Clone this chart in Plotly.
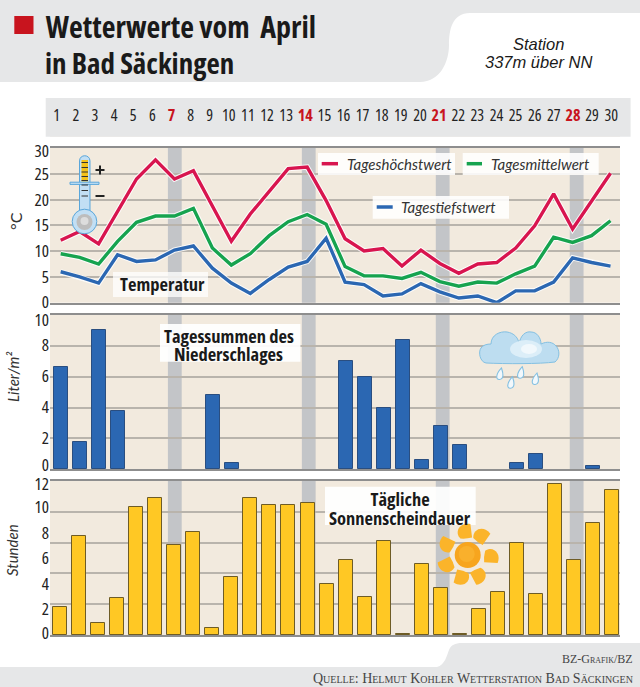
import math
import plotly.graph_objects as go

days = list(range(1, 31))
red_days = [7, 14, 21, 28]
t_high = [12.1, 13.8, 11.4, 17.7, 24.0, 27.7, 24.0, 25.6, 18.9, 11.9, 17.2, 21.7, 26.0, 26.3, 19.8,
          12.4, 10.05, 10.5, 7.1, 10.2, 7.6, 5.7, 7.5, 7.8, 10.6, 14.9, 21.1, 14.3, 19.6, 25.1]
t_mean = [9.5, 8.8, 7.5, 11.9, 15.6, 16.8, 16.8, 18.3, 10.6, 7.3, 9.5, 13.0, 15.7, 17.1, 15.2,
          7.0, 5.2, 5.2, 4.7, 5.9, 4.1, 3.2, 4.0, 3.8, 5.6, 7.1, 12.7, 11.7, 13.0, 15.9]
t_low = [6.0, 5.0, 3.8, 9.3, 8.0, 8.3, 10.2, 11.0, 6.7, 3.8, 1.8, 4.5, 6.9, 8.0, 12.5,
         4.0, 3.5, 1.3, 1.7, 3.7, 2.1, 0.9, 1.3, 0.0, 2.3, 2.3, 4.0, 8.7, 7.8, 7.1]
rain = [6.6, 1.8, 9.0, 3.8, 0, 0, 0, 0, 4.8, 0.4, 0, 0, 0, 0, 0,
        7.0, 6.0, 4.0, 8.4, 0.6, 2.8, 1.6, 0, 0, 0.4, 1.0, 0, 0, 0.2, 0]
sun = [2.2, 7.7, 0.9, 2.9, 10.0, 10.65, 7.0, 8.0, 0.55, 4.5, 10.65, 10.15, 10.15, 10.3, 4.0,
       5.85, 3.0, 7.3, 0.05, 5.5, 3.7, 0.05, 2.05, 3.35, 7.2, 3.2, 11.8, 5.85, 8.7, 11.3]
temp_labels = ["0", "5", "10", "15", "20", "25", "30"]
rain_labels = ["0", "2", "4", "6", "8", "10"]
sun_labels = ["0", "2", "4", "6", "8", "10", "12"]
temp_grid = [5, 10, 15, 20, 25]
rain_grid = [2, 4, 6, 8]
sun_grid = [2.4, 4.8, 7.2, 9.6]

W, H = 640, 687
NARROW = "Open Sans"
GRID = "#B9B4AC"
EDGE = "#8E8E8E"
PANEL = "#F2EADE"
HEAD = "#E6E7E8"
RED = "#C8141E"
C_HIGH, C_MEAN, C_LOW = "#D8154F", "#16A34F", "#2B67B2"


def X(p):
    return p / W


def Y(p):
    return 1 - p / H


def path(cmds):
    out = []
    for c in cmds:
        if isinstance(c, str):
            out.append(c)
        else:
            out.append(f"{X(c[0]):.5f},{Y(c[1]):.5f}")
    return " ".join(out)


shapes = []


def add_path(cmds, fill, line=None, lw=0, layer="above"):
    shapes.append(dict(type="path", xref="paper", yref="paper", path=path(cmds), fillcolor=fill,
                       line=dict(color=line or "rgba(0,0,0,0)", width=lw), layer=layer))


def add_rect(x0, y0, x1, y1, fill, layer="above", line=None, lw=0):
    shapes.append(dict(type="rect", xref="paper", yref="paper", x0=X(x0), x1=X(x1), y0=Y(y0), y1=Y(y1),
                       fillcolor=fill, line=dict(color=line or "rgba(0,0,0,0)", width=lw), layer=layer))


def add_oval(cx, cy, rx, ry, fill, line=None, lw=0):
    shapes.append(dict(type="circle", xref="paper", yref="paper", x0=X(cx - rx), x1=X(cx + rx),
                       y0=Y(cy - ry), y1=Y(cy + ry), fillcolor=fill,
                       line=dict(color=line or "rgba(0,0,0,0)", width=lw), layer="above"))


def add_line(x0, y0, x1, y1, color, lw):
    shapes.append(dict(type="line", xref="paper", yref="paper", x0=X(x0), x1=X(x1), y0=Y(y0), y1=Y(y1),
                       line=dict(color=color, width=lw), layer="above"))


# header and footer backgrounds
add_path(["M", (0, 0), "L", (640, 0), "L", (640, 13), "L", (470, 13), "C", (452, 13), (449, 30), (449, 45),
          "C", (449, 62), (440, 82), (420, 82), "L", (0, 82), "Z"], HEAD, layer="below")
add_rect(45.7, 98, 630.6, 136.7, HEAD, layer="below")
add_path(["M", (0, 667), "L", (437, 667), "C", (445, 665), (447, 655), (449, 650), "C", (451, 645), (455, 643), (462, 643),
          "L", (640, 643), "L", (640, 687), "L", (0, 687), "Z"], HEAD, layer="below")
add_rect(14.3, 16, 33.5, 34, RED, layer="below")

# grey bands of the weeks
panels = [(148, 302.7), (315, 469.3), (481, 635)]
for i, d in enumerate(red_days):
    cx = 174.8 + 133.95 * i
    for top, bot in panels:
        add_rect(cx - 6.9, top, cx + 6.9, bot, "#C3C5C8", layer="below")

# legend boxes
add_rect(318, 153, 455, 175, "rgba(255,255,255,0.88)")
add_rect(462.7, 153, 598.7, 175, "rgba(255,255,255,0.88)")
add_rect(372.7, 196, 509, 218.7, "rgba(255,255,255,0.88)")
add_line(321.7, 163.7, 338, 163.7, C_HIGH, 3.5)
add_line(466.7, 163.7, 482, 163.7, C_MEAN, 3.5)
add_line(376.7, 207, 392.7, 207, C_LOW, 3.5)
add_rect(113, 272, 208, 297, "rgba(255,255,255,0.75)")
add_rect(160, 324, 300.4, 361.7, "rgba(255,255,255,0.92)")
add_rect(325, 486.7, 475.7, 525, "rgba(255,255,255,0.92)")

# thermometer
TB = "#C2DFF4"
TL = "#5AA6DA"
add_path(["M", (79.5, 212), "L", (79.5, 161), "C", (79.5, 154), (90, 154), (90, 161), "L", (90, 212), "Z"], TB, TL, 1)
add_oval(84.5, 221.5, 12.3, 12.3, TB, TL, 1)
add_rect(81.5, 160, 88, 181.5, "#F4C21B")
add_path(["M", (70, 182.2), "L", (99, 182.2), "L", (99, 184.4), "L", (70, 184.4), "Z"], TB, TL, 1)
for ty in [162.5, 167.5, 172, 176.5, 180.5, 185, 190.5, 196]:
    add_line(81.5, ty, 88, ty, "#333333", 1)
add_oval(84.5, 222, 8, 8, "#BDBDBD")
add_oval(84.5, 221, 4, 4, "#DDDDDD")
add_line(95.5, 170, 104.5, 170, "#222222", 2)
add_line(100, 165.5, 100, 174.5, "#222222", 2)
add_line(95.5, 196, 104.5, 196, "#222222", 2)

# cloud and rain
CL = "#83C0E2"
add_path(["M", (486, 363), "C", (480, 362), (478, 352), (481, 348), "C", (483, 345), (487, 344), (491, 344),
          "C", (491, 335), (500, 331), (507, 332), "C", (514, 333), (519, 338), (519, 345),
          "C", (520, 335), (526, 331), (531, 332), "C", (537, 332), (541, 338), (541, 344),
          "C", (547, 341), (553, 342), (556, 346), "C", (560, 350), (560, 358), (555, 362),
          "C", (540, 364), (505, 364), (486, 363), "Z"], "#BDDDF0", CL, 1)
add_oval(526, 349, 16, 9, "#DCEEF8")
add_oval(529, 349, 8, 5, "#F1F8FC")
for dx, dy in [(500, 374), (520.8, 372.7), (511, 382.7), (535.5, 379)]:
    add_path(["M", (dx + 1.5, dy - 6), "C", (dx - 5, dy + 1), (dx - 4, dy + 6), (dx - 0.5, dy + 5.5),
              "C", (dx + 4, dy + 5), (dx + 3.5, dy), (dx + 1.5, dy - 6), "Z"], "#F2F8FC", CL, 1.1)

# sun
SX, SY = 467.7, 555


def pt(r, deg):
    return (SX + r * math.cos(math.radians(deg)), SY + r * math.sin(math.radians(deg)))


for a in [-95, -53, 5, 64, 107, 156, 208]:
    add_path(["M", pt(18, a - 19), "C", pt(27, a - 26), pt(34, a - 8), pt(31, a + 10), "L", pt(18, a + 19),
              "Q", pt(16, a), pt(18, a - 19), "Z"], "#FBB42A")
add_oval(SX, SY, 13, 13, "#F7A51E")
add_oval(SX - 1, SY - 1, 8, 8, "#F9B02C")

fig = go.Figure()

# day strip
strip_colors = [RED if d in red_days else "#222222" for d in days]
strip_text = [f"<b>{d}</b>" if d in red_days else str(d) for d in days]
fig.add_trace(go.Scatter(x=days, y=[0] * 30, mode="text", text=strip_text,
                         textfont=dict(family=NARROW, size=16, color=strip_colors),
                         xaxis="x4", yaxis="y4", showlegend=False, hoverinfo="skip", cliponaxis=False))

# temperatures
for vals, col in [(t_high, C_HIGH), (t_mean, C_MEAN), (t_low, C_LOW)]:
    fig.add_trace(go.Scatter(x=days, y=vals, mode="lines", line=dict(color="rgba(255,255,255,0.85)", width=5.5),
                             xaxis="x", yaxis="y", showlegend=False, hoverinfo="skip", cliponaxis=False))
    fig.add_trace(go.Scatter(x=days, y=vals, mode="lines", line=dict(color=col, width=3.4),
                             xaxis="x", yaxis="y", showlegend=False, cliponaxis=False))

fig.add_trace(go.Bar(x=days, y=rain, width=0.75,
                     marker=dict(color="#2B67B2", line=dict(color="#2A4E80", width=[1 if v > 0 else 0 for v in rain])),
                     xaxis="x2", yaxis="y2", showlegend=False))
fig.add_trace(go.Bar(x=days, y=sun, width=0.735, marker=dict(color="#FFC824", line=dict(color="#6E5C26", width=1)),
                     xaxis="x3", yaxis="y3", showlegend=False))


def xax(anchor, rng):
    return dict(domain=[X(50), X(620)], range=rng, anchor=anchor, showgrid=False, showticklabels=False, ticks="",
                zeroline=False, showline=True, mirror=True, linecolor=EDGE, linewidth=2, fixedrange=True,
                automargin=False)


def yax(anchor, top, bot, rng, label_at, labels, grid):
    # the printed labels sit slightly squeezed inside each panel, independent of the gridlines
    return dict(domain=[Y(bot), Y(top)], range=rng, anchor=anchor, tickvals=label_at, ticktext=labels,
                tickfont=dict(family=NARROW, size=17, color="#222222"), ticks="", showgrid=False,
                zeroline=False, showline=False, fixedrange=True, automargin=False,
                minor=dict(tickvals=grid, showgrid=True, gridcolor=GRID, gridwidth=1.6, ticks=""))


def ann(x, y, text, size=14, family=NARROW, color="#1A1A1A", anchor="center", angle=0, variant=None, italic=False):
    f = dict(family=family, size=size, color=color)
    if variant:
        f["variant"] = variant
    if italic:
        f["style"] = "italic"
    return dict(xref="paper", yref="paper", x=X(x), y=Y(y), text=text, showarrow=False, font=f,
                xanchor=anchor, yanchor="middle", textangle=angle, borderpad=0)


annotations = [
    ann(180.5, 27, "<b>Wetterwerte vom  April</b>", size=30),
    ann(139.6, 63, "<b>in Bad Säckingen</b>", size=29),
    ann(538, 44, "Station", size=16.5, family="Liberation Sans", italic=True),
    ann(538, 61.5, "337m über NN", size=16.5, family="Liberation Sans", italic=True),
    ann(346, 164, "Tageshöchstwert", size=15, family="Lato", anchor="left", italic=True, color="#333333"),
    ann(490, 164, "Tagesmittelwert", size=15, family="Lato", anchor="left", italic=True, color="#333333"),
    ann(400, 207, "Tagestiefstwert", size=15, family="Lato", anchor="left", italic=True, color="#333333"),
    ann(162, 284, "<b>Temperatur</b>", size=18.5),
    ann(228.6, 335, "<b>Tagessummen des</b>", size=18.5),
    ann(228.6, 353, "<b>Niederschlages</b>", size=18.5),
    ann(400, 498, "<b>Tägliche</b>", size=18.5),
    ann(400, 517, "<b>Sonnenscheindauer</b>", size=18.5),
    ann(15, 221, "°C", size=16, family="Lato", angle=-90, color="#333333"),
    ann(13, 377, "Liter/m²", size=15, family="Lato", angle=-90, italic=True, color="#333333"),
    ann(12, 550, "Stunden", size=15, family="Lato", angle=-90, italic=True, color="#333333"),
    ann(634, 659, "BZ-Grafik/BZ", size=12, family="Liberation Serif", anchor="right", variant="small-caps", color="#444444"),
    ann(634, 678, "Quelle: Helmut Kohler Wetterstation Bad Säckingen", size=14, family="Liberation Serif",
        anchor="right", variant="small-caps", color="#444444"),
]

fig.update_layout(
    width=W, height=H, margin=dict(l=0, r=0, t=0, b=0), autosize=False,
    paper_bgcolor="white", plot_bgcolor=PANEL, showlegend=False, bargap=0,
    xaxis=xax("y", [0.436, 30.5]),
    yaxis=yax("x", 148, 302.7, [0, 30], [0.1, 5, 10, 15, 20, 25, 29.5], temp_labels, temp_grid),
    xaxis2=xax("y2", [0.41, 30.41]),
    yaxis2=yax("x2", 315, 469.3, [0, 10], [0.28, 2.03, 4.04, 6.05, 8.06, 9.68], rain_labels, rain_grid),
    xaxis3=xax("y3", [0.486, 30.4]),
    yaxis3=yax("x3", 481, 635, [0, 12], [0.15, 2.03, 3.97, 6.0, 7.95, 9.98, 11.77], sun_labels, sun_grid),
    xaxis4=dict(domain=[X(50), X(620)], range=[0.65, 30.46], anchor="y4", visible=False, fixedrange=True),
    yaxis4=dict(domain=[Y(136.7), Y(98)], range=[-1, 1], anchor="x4", visible=False, fixedrange=True),
    shapes=shapes, annotations=annotations,
)

STYLE = ("document.body.style.margin='0';"
         "var s=document.createElement('style');"
         "s.textContent='svg text{font-stretch:75%}';"
         "document.head.appendChild(s);")
fig.write_html("out.html", post_script=STYLE, config=dict(displayModeBar=False))
